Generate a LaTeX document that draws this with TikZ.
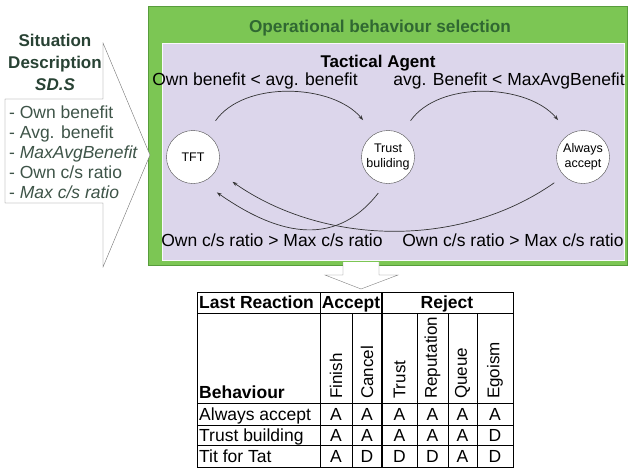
\documentclass[tikz,border=0pt]{standalone}
\usepackage{fontspec}
\setmainfont{Liberation Sans}
\usetikzlibrary{arrows.meta}
\definecolor{opGreen}{RGB}{124,198,84}
\definecolor{opGreenDark}{RGB}{88,156,60}
\definecolor{tacLavender}{RGB}{220,214,235}
\definecolor{titleGreen}{RGB}{48,104,50}
\definecolor{sitText}{RGB}{40,66,52}
\definecolor{listText}{RGB}{62,84,72}

\begin{document}
\begin{tikzpicture}[x=1pt,y=1pt,
    state/.style={draw=black!70,fill=white,circle,minimum size=53pt,inner sep=0pt,align=center,font=\fontsize{12.5}{15}\selectfont},
    cond/.style={anchor=base,font=\fontsize{17.5}{20}\selectfont},
    trans/.style={-{Stealth[length=5pt,width=3.5pt]},black!80,line width=0.7pt},
    tabline/.style={black,line width=0.6pt},
    cell/.style={anchor=base,inner sep=0pt,font=\fontsize{17.5}{20}\selectfont},
    vhead/.style={anchor=west,rotate=90,inner sep=0pt,font=\fontsize{17}{20}\selectfont}]
  \useasboundingbox (0,0) rectangle (628,-474);

  % Operational behaviour selection
  \draw[draw=opGreenDark,fill=opGreen] (148,-6) rectangle (627,-265);
  \node[cond,text=titleGreen,font=\bfseries\fontsize{17.2}{20}\selectfont] (optitle) at (380,-32) {Operational behaviour selection};
  \draw[draw=white!85!tacLavender,fill=tacLavender] (162,-43) rectangle (624,-260);

  % Situation description
  \draw[draw=black!55,fill=white] (5,-99) -- (103,-99) -- (103,-43) -- (150,-155) -- (103,-267) -- (103,-203) -- (5,-203) -- cycle;
  \node[align=center,text=sitText,font=\bfseries\fontsize{17}{22}\selectfont] (sitdesc) at (55,-62) {Situation\\Description\\\textit{SD.S}};
  \node[align=left,anchor=north west,inner sep=0pt,text=listText,font=\fontsize{17.5}{20}\selectfont] (sitlist) at (9,-106) {- Own benefit\\- Avg. benefit\\- \textit{MaxAvgBenefit}\\- Own c/s ratio\\- \textit{Max c/s ratio}};

  % Tactical agent
  \node[cond,font=\bfseries\fontsize{17}{20}\selectfont] (tactical) at (378,-67) {Tactical Agent};
  \node[state] (tft) at (193,-157) {TFT};
  \node[state] (tb) at (388,-157) {Trust\\buliding};
  \node[state] (aa) at (583,-157) {Always\\accept};

  \node[cond] (c1) at (255,-85) {Own benefit < avg. benefit};
  \node[cond] (c2) at (509,-85) {avg. Benefit < MaxAvgBenefit};
  \node[cond] (c3) at (272,-246) {Own c/s ratio > Max c/s ratio};
  \node[cond] (c4) at (513,-246) {Own c/s ratio > Max c/s ratio};

  \draw[trans,shorten <=16pt,shorten >=18pt] (tft.60) to[out=55,in=130] (tb.120);
  \draw[trans,shorten <=16pt,shorten >=18pt] (tb.60) to[out=55,in=130] (aa.120);
  \draw[trans,shorten <=12pt,shorten >=18pt,looseness=1.2] (tb.265) to[out=232,in=-35] (tft.-70);
  \draw[trans,shorten <=12pt,shorten >=20pt,looseness=0.95] (aa.225) to[out=215,in=-35] (tft.-30);

  % Down arrow
  \draw[draw=black!50,fill=white] (343,-262) -- (343,-275) -- (325,-275) -- (361,-289) -- (398,-275) -- (379,-275) -- (379,-262);

  % Table
  \draw[tabline] (197,-292) rectangle (513,-467);
  \foreach \y in {313,403,425,445}
    \draw[tabline] (197,-\y) -- (513,-\y);
  \draw[tabline] (320,-292) -- (320,-467);
  \foreach \x in {352,417,448,477}
    \draw[tabline] (\x,-313) -- (\x,-467);
  \draw[tabline,line width=1.6pt] (382,-292) -- (382,-467);

  \node[cell,anchor=base west,font=\bfseries\fontsize{17.5}{20}\selectfont] (lastreac) at (199,-308) {Last Reaction};
  \node[cell,font=\bfseries\fontsize{17.5}{20}\selectfont] (accept) at (351,-308) {Accept};
  \node[cell,font=\bfseries\fontsize{17.5}{20}\selectfont] (reject) at (447,-308) {Reject};
  \node[cell,anchor=base west,font=\bfseries\fontsize{17.5}{20}\selectfont] (behav) at (199,-398) {Behaviour};

  \foreach \x/\name/\lab in {336/fin/Finish,367/can/Cancel,399.5/tru/Trust,432.5/rep/Reputation,462.5/que/Queue,495/ego/Egoism}
    \node[vhead] (\name) at (\x,-399) {\lab};

  \node[cell,anchor=base west] (r1) at (199,-420) {Always accept};
  \node[cell,anchor=base west] (r2) at (199,-441) {Trust building};
  \node[cell,anchor=base west] (r3) at (199,-462) {Tit for Tat};
  \foreach \x/\v [count=\i] in {336/A,367/A,399.5/A,432.5/A,462.5/A,495/A}
    \node[cell] (r1c\i) at (\x,-420) {\v};
  \foreach \x/\v [count=\i] in {336/A,367/A,399.5/A,432.5/A,462.5/A,495/D}
    \node[cell] (r2c\i) at (\x,-441) {\v};
  \foreach \x/\v [count=\i] in {336/A,367/D,399.5/D,432.5/D,462.5/A,495/D}
    \node[cell] (r3c\i) at (\x,-462) {\v};
\end{tikzpicture}
\end{document}
